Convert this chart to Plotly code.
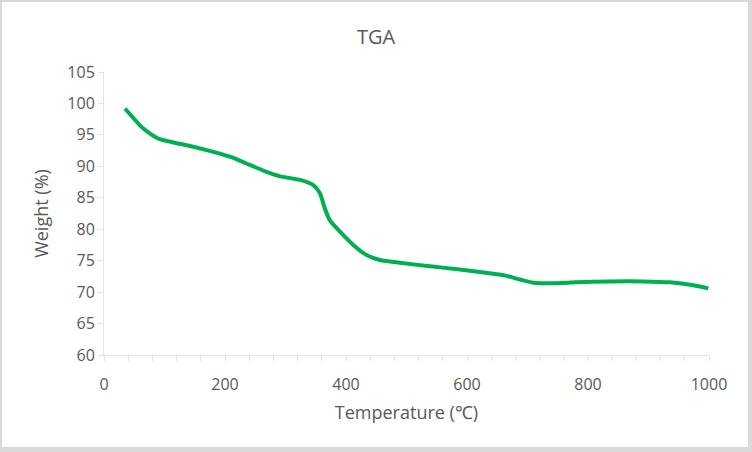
import plotly.graph_objects as go

temperature = [34.7, 65, 89.8, 114.6, 136.6, 180.7, 213.8, 235.8, 268.9, 290.9, 324, 346, 357, 365,
               373.5, 390, 412, 434, 456, 489, 539, 588, 621.5, 660, 687.6, 709.6, 737, 781, 836,
               891, 935.5, 974, 999]
weight = [99.2, 96.0, 94.4, 93.8, 93.35, 92.3, 91.35, 90.45, 89.1, 88.4, 87.85, 87.0, 85.7, 83.3,
          81.4, 79.6, 77.5, 75.9, 75.1, 74.66, 74.1, 73.6, 73.2, 72.7, 72.0, 71.5, 71.4, 71.55, 71.7,
          71.7, 71.55, 71.1, 70.6]

x_ticks = [0, 200, 400, 600, 800, 1000]
y_ticks = [60, 65, 70, 75, 80, 85, 90, 95, 100, 105]

TXT = "#595959"
AX = "#e3e3e3"
FONT = "Open Sans"

fig = go.Figure()
fig.add_trace(go.Scatter(x=temperature, y=weight, mode="lines",
                         line=dict(color="#00b050", width=4, shape="spline", smoothing=0.6),
                         showlegend=False, hoverinfo="skip"))

W, H = 752, 452
L, R, T, B = 104, 43, 72, 97
pw, ph = W - L - R, H - T - B

def px2x(px):
    return (px - L) / pw

def py2y(py):
    return (H - B - py) / ph

fig.add_shape(type="rect", xref="paper", yref="paper", layer="below",
              x0=px2x(2), x1=px2x(748), y0=py2y(447), y1=py2y(2),
              fillcolor="white", line=dict(width=0))

fig.update_layout(
    width=W, height=H,
    margin=dict(l=L, r=R, t=T, b=B),
    paper_bgcolor="#d9d9d9",
    plot_bgcolor="white",
    font=dict(family=FONT, color=TXT, size=16),
    title=dict(text="TGA", x=0.5, xanchor="center", y=1 - 37 / H, yanchor="middle",
               font=dict(family=FONT, size=20, color=TXT)),
)
fig.update_xaxes(range=[0, 1000], tickvals=x_ticks, showgrid=False, zeroline=False,
                 showline=True, linecolor=AX, linewidth=1,
                 ticks="outside", ticklen=5, tickcolor=AX,
                 minor=dict(dtick=40, tick0=0, ticks="outside", ticklen=5, tickcolor=AX, showgrid=False),
                 ticklabelstandoff=10,
                 tickfont=dict(size=16, color=TXT),
                 title=dict(text="Temperature (℃)", font=dict(size=18, color=TXT), standoff=12))
fig.update_yaxes(range=[60, 105], tickvals=y_ticks, showgrid=False, zeroline=False,
                 showline=True, linecolor=AX, linewidth=1,
                 ticks="outside", ticklen=5, tickcolor=AX,
                 tickfont=dict(size=16, color=TXT),
                 title=dict(text="Weight (%)", font=dict(size=18, color=TXT), standoff=14))

fig.write_html("out.html")
